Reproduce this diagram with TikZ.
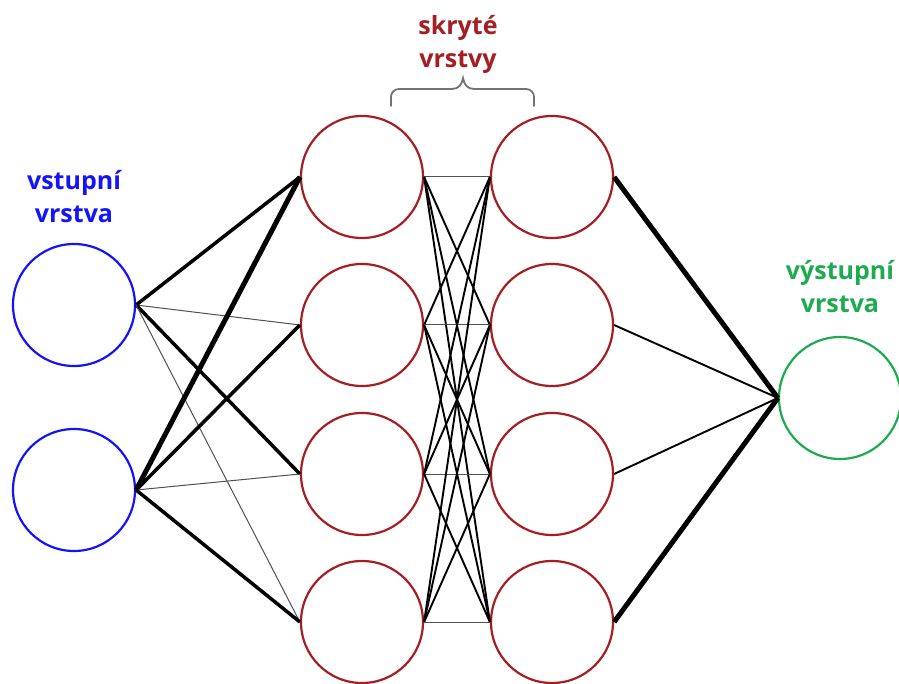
\documentclass[tikz,border=0pt]{standalone}
\usepackage{fontspec}
\setmainfont{Open Sans}
\definecolor{inblue}{RGB}{20,20,250}
\definecolor{hidred}{RGB}{165,30,35}
\definecolor{outgreen}{RGB}{30,170,80}
\definecolor{bracegray}{RGB}{115,115,115}
\definecolor{thingray}{RGB}{80,80,80}
\begin{document}
\begin{tikzpicture}[x=1pt,y=-1pt,
  neuron/.style={circle,draw,line width=2.2pt,minimum size=122pt,inner sep=0pt},
  inn/.style={neuron,draw=inblue},
  hid/.style={neuron,draw=hidred},
  outn/.style={neuron,draw=outgreen},
  lbl/.style={font=\fontsize{25}{33}\selectfont\bfseries,align=center,inner sep=0pt},
  thin/.style={line width=1pt,draw=thingray},
  mid/.style={line width=1.9pt,draw=black},
  thk/.style={line width=3.5pt,draw=black},
  vthk/.style={line width=5pt,draw=black}]
\useasboundingbox (0,0) rectangle (899,684);
\node[inn] (i1) at (74,305) {};
\node[inn] (i2) at (74,490) {};
\foreach \k/\y in {1/177,2/325,3/474,4/622}{
  \node[hid] (a\k) at (362,\y) {};
  \node[hid] (b\k) at (552,\y) {};
}
\node[outn] (o) at (840,398) {};
% input -> hidden 1
\draw[thk] (i1.east) -- (a1.west);
\draw[thin] (i1.east) -- (a2.west);
\draw[thk] (i1.east) -- (a3.west);
\draw[thin] (i1.east) -- (a4.west);
\draw[vthk] (i2.east) -- (a1.west);
\draw[thk] (i2.east) -- (a2.west);
\draw[thin] (i2.east) -- (a3.west);
\draw[thk] (i2.east) -- (a4.west);
% hidden 1 -> hidden 2
\foreach \p in {1,...,4}{
  \foreach \q in {1,...,4}{
    \ifnum\p=\q
      \draw[thin] (a\p.east) -- (b\q.west);
    \else
      \draw[mid] (a\p.east) -- (b\q.west);
    \fi
  }
}
% hidden 2 -> output
\draw[vthk] (b1.east) -- (o.west);
\draw[mid] (b2.east) -- (o.west);
\draw[mid] (b3.east) -- (o.west);
\draw[vthk] (b4.east) -- (o.west);
% labels
\node[lbl,text=inblue] (lin) at (74,197) {vstupní\\vrstva};
\node[lbl,text=hidred] (lhid) at (458,44) {skryté\\vrstvy};
\node[lbl,text=outgreen] (lout) at (840,287) {výstupní\\vrstva};
% brace
\draw[bracegray,line width=1.8pt,line cap=round]
  (391,106) -- (391,97) arc[start angle=180,end angle=270,radius=8] -- (452,89)
  .. controls (459,89) and (462,84) .. (463,78)
  .. controls (464,84) and (467,89) .. (474,89) -- (526,89)
  arc[start angle=270,end angle=360,radius=8] -- (534,106);
\end{tikzpicture}
\end{document}
